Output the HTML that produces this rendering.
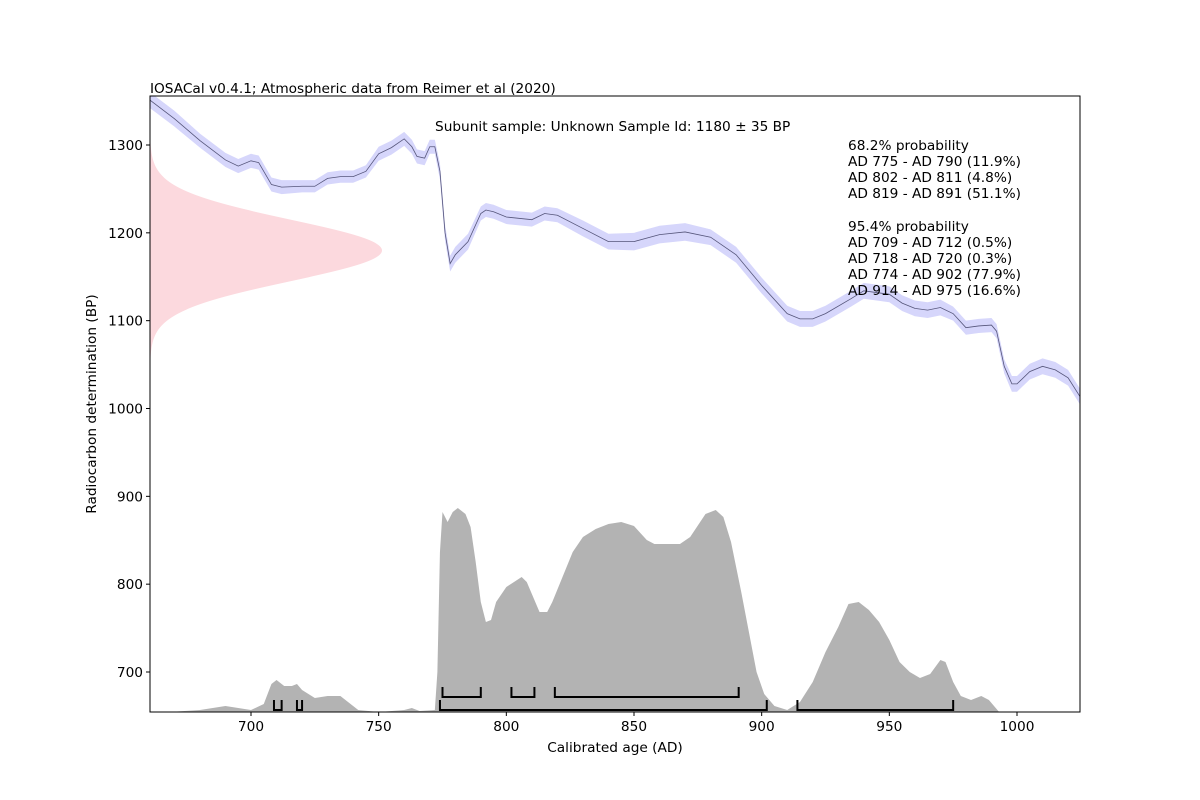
<!DOCTYPE html>
<html><head><meta charset="utf-8"><style>
body{margin:0;background:#fff;}
svg{display:block;font-family:"DejaVu Sans","Liberation Sans",sans-serif;}
</style></head><body>
<svg id="chart" width="1200" height="800" viewBox="0 0 1200 800" xmlns="http://www.w3.org/2000/svg">
<rect width="1200" height="800" fill="#fff"/>
<defs><clipPath id="plotclip"><rect x="150" y="96" width="930" height="616"/></clipPath></defs>
<g id="plot" clip-path="url(#plotclip)"></g>
<rect x="150" y="96" width="930" height="616" fill="none" stroke="#000" stroke-width="1"/>
<g id="axes"></g>
<text x="150" y="93" font-size="13.7">IOSACal v0.4.1; Atmospheric data from Reimer et al (2020)</text>
<text x="435" y="131" font-size="13.7">Subunit sample: Unknown Sample Id: 1180 ± 35 BP</text>
<g font-size="13.7">
<text x="848" y="150">68.2% probability</text>
<text x="848" y="166">AD 775 - AD 790 (11.9%)</text>
<text x="848" y="182">AD 802 - AD 811 (4.8%)</text>
<text x="848" y="198">AD 819 - AD 891 (51.1%)</text>
<text x="848" y="231">95.4% probability</text>
<text x="848" y="247">AD 709 - AD 712 (0.5%)</text>
<text x="848" y="263">AD 718 - AD 720 (0.3%)</text>
<text x="848" y="279">AD 774 - AD 902 (77.9%)</text>
<text x="848" y="295">AD 914 - AD 975 (16.6%)</text>
</g>
<text x="615" y="752" font-size="13.7" text-anchor="middle">Calibrated age (AD)</text>
<text transform="translate(96,404) rotate(-90)" font-size="13.7" text-anchor="middle">Radiocarbon determination (BP)</text>
</svg>
<script>
const curveYears=[660,670,680,690,695,700,703,708,712,720,725,730,735,740,745,750,755,760,763,765,768,770,772,774,776,778,780,785,790,792,795,800,810,815,820,830,840,850,860,870,880,890,900,910,915,920,925,935,940,950,955,960,965,970,975,980,985,990,992,995,998,1000,1005,1010,1015,1020,1025];
const curveBP=[1352,1330,1305,1283,1276,1282,1280,1255,1252,1253,1253,1262,1264,1264,1270,1290,1297,1307,1298,1287,1285,1298,1298,1270,1200,1165,1175,1190,1222,1226,1224,1218,1215,1222,1220,1205,1190,1190,1198,1201,1195,1175,1140,1108,1102,1102,1108,1125,1134,1130,1120,1114,1112,1115,1108,1092,1094,1095,1088,1048,1028,1028,1042,1048,1044,1035,1012];
const curveErr=[9,9,8,8,8,8,8,8,8,7,7,7,7,7,7,8,8,8,8,8,8,8,8,9,9,9,9,9,8,8,8,8,8,8,8,9,9,10,10,10,9,9,9,9,9,9,9,9,9,9,9,9,9,9,8,8,8,8,8,8,9,9,9,9,9,9,9];
const densYears=[668,680,690,695,700,705,708,710,713,716,718,720,725,730,735,738,742,750,760,763,766,772,773,774,775,777,779,781,784,786,788,790,792,794,796,800,803,806,808,810,813,816,818,822,826,830,835,840,845,850,855,858,862,868,872,878,882,885,888,892,895,898,901,905,910,915,920,925,930,934,938,942,946,950,954,958,962,966,970,972,975,978,982,986,989,993];
const densVals=[0,2,6,4,2,8,28,32,26,26,28,22,14,16,16,10,2,0,2,4,1,2,40,160,200,190,200,204,198,185,150,110,90,92,110,125,130,135,130,118,100,100,110,135,160,175,183,188,190,186,172,168,168,168,175,198,202,195,170,120,80,40,18,6,2,10,30,60,85,108,110,102,90,72,50,40,34,38,52,50,30,16,12,16,12,0];
const range68=[[775,790],[802,811],[819,891]];
const range95=[[709,712],[718,720],[774,902],[914,975]];
const sampleMean=1180, sampleSigma=35;
const xTicks=[700,750,800,850,900,950,1000];
const yTicks=[700,800,900,1000,1100,1200,1300];

const X=y=>251+(y-700)*766/300;
const Y=b=>672-(b-700)*527/600;
const NS="http://www.w3.org/2000/svg";
function mk(tag,attrs,parent){const e=document.createElementNS(NS,tag);for(const k in attrs)e.setAttribute(k,attrs[k]);parent.appendChild(e);return e;}
const plot=document.getElementById('plot'), axes=document.getElementById('axes');

let gp="M150,"+Y(sampleMean-4.5*sampleSigma);
for(let b=sampleMean-4.5*sampleSigma;b<=sampleMean+4.5*sampleSigma;b+=1){
  const v=Math.exp(-0.5*((b-sampleMean)/sampleSigma)**2);gp+=" L"+(150+232*v)+","+Y(b);}
gp+=" L150,"+Y(sampleMean+4.5*sampleSigma)+"Z";
const g=mk('path',{d:gp,fill:'#fcd9de'},plot);



let up="",lo="";
curveYears.forEach((yr,i)=>{up+=(i?" L":"M")+X(yr)+","+Y(curveBP[i]+curveErr[i]);});
for(let i=curveYears.length-1;i>=0;i--)lo+=" L"+X(curveYears[i])+","+Y(curveBP[i]-curveErr[i]);
const band=mk('path',{d:up+lo+"Z",fill:'#d6d6fb'},plot);


let cl="";curveYears.forEach((yr,i)=>{cl+=(i?" L":"M")+X(yr)+","+Y(curveBP[i]);});
const line=mk('path',{d:cl,fill:'none',stroke:'#55557a','stroke-width':0.8},plot);



const base=712;let dp="M"+X(densYears[0])+","+base;
densYears.forEach((yr,i)=>{dp+=" L"+X(yr)+","+(base-densVals[i]);});
dp+=" L"+X(densYears[densYears.length-1])+","+base+"Z";
const dens=mk('path',{d:dp,fill:'#b3b3b3'},plot);



function bracket(r,yl,name){
  const p=mk('path',{d:`M${X(r[0])},${yl-10} L${X(r[0])},${yl} L${X(r[1])},${yl} L${X(r[1])},${yl-10}`,fill:'none',stroke:'#000','stroke-width':2},plot);
  
  
}
range68.forEach(r=>bracket(r,697,'range-68'));
range95.forEach(r=>bracket(r,710,'range-95'));

xTicks.forEach(t=>{
  const x=X(t);mk('line',{x1:x,x2:x,y1:712,y2:716,stroke:'#000'},axes);
  const tx=mk('text',{x:x,y:731,'font-size':13.7,'text-anchor':'middle'},axes);tx.textContent=t;
  
  
});
yTicks.forEach(t=>{
  const y=Y(t);mk('line',{x1:146,x2:150,y1:y,y2:y,stroke:'#000'},axes);
  const tx=mk('text',{x:143,y:y+5,'font-size':13.7,'text-anchor':'end'},axes);tx.textContent=t;
  
  
});
</script>
</body></html>
